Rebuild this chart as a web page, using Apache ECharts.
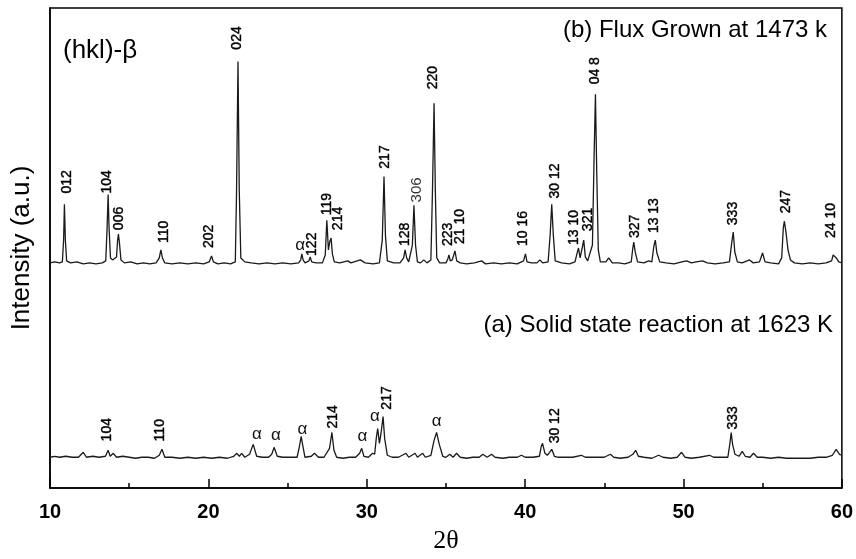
<!DOCTYPE html>
<html>
<head>
<meta charset="utf-8">
<script src="https://cdn.jsdelivr.net/npm/echarts@6/dist/echarts.min.js"></script>
<style>
  html, body { margin: 0; padding: 0; background: #fff; }
  #chart { width: 856px; height: 559px; }
</style>
</head>
<body>
<div id="chart"></div>
<script>
// 2theta / intensity (a.u.)
var fluxGrown = [
  [10.0,227],[10.3,228],[10.6,227],[10.78,228],[10.86,250],[10.91,286],[10.97,250],[11.05,229],[11.3,227],[11.7,228],
  [12.1,226],[12.5,227],[12.9,226],[13.3,227],[13.52,229],[13.6,260],[13.67,296],[13.73,262],[13.82,232],[13.95,230],
  [14.2,233],[14.27,250],[14.32,256],[14.38,248],[14.48,230],[14.7,227],[15.1,228],[15.5,226],[15.9,227],[16.3,226],
  [16.7,227],[16.9,232],[17.0,240],[17.1,232],[17.25,227],[17.7,226],[18.2,227],[18.7,226],[19.2,227],[19.7,226],
  [20.05,228],[20.2,234],[20.32,228],[20.6,226],[21.0,227],[21.4,226],[21.7,228],[21.78,300],[21.87,430],[21.95,300],
  [22.05,232],[22.3,228],[22.7,227],[23.2,226],[23.7,227],[24.2,226],[24.7,227],[25.2,226],[25.7,227],[25.83,230],
  [25.9,236],[25.98,230],[26.1,227],[26.35,229],[26.43,233],[26.52,228],[26.8,227],[27.2,227],[27.38,235],[27.48,270],
  [27.58,240],[27.66,248],[27.75,252],[27.83,236],[27.95,228],[28.3,227],[28.8,229],[29.0,227],[29.6,230],[29.9,227],
  [30.4,226],[30.8,227],[30.98,250],[31.09,314],[31.18,255],[31.3,229],[31.7,227],[32.1,227],[32.33,232],[32.42,240],
  [32.52,232],[32.65,228],[32.88,245],[32.98,285],[33.08,245],[33.2,228],[33.4,227],[33.6,230],[33.8,227],[34.05,230],
  [34.15,300],[34.25,388],[34.33,300],[34.42,232],[34.6,227],[35.0,227],[35.12,231],[35.19,235],[35.27,229],[35.4,230],
  [35.57,239],[35.68,229],[35.9,227],[36.3,226],[36.8,227],[37.25,229],[37.5,226],[38.0,227],[38.5,226],[39.0,227],
  [39.5,226],[39.9,229],[40.02,236],[40.12,228],[40.4,227],[40.75,227],[40.93,230],[41.1,227],[41.45,228],[41.58,255],
  [41.68,286],[41.78,255],[41.9,229],[42.3,227],[42.8,226],[43.15,228],[43.3,238],[43.37,242],[43.47,232],[43.6,242],
  [43.7,250],[43.8,233],[43.95,229],[44.25,245],[44.35,330],[44.44,397],[44.52,320],[44.62,240],[44.75,228],[45.1,228],
  [45.28,232],[45.5,227],[45.9,227],[46.3,226],[46.7,228],[46.8,242],[46.86,248],[46.95,238],[47.1,228],[47.5,227],
  [47.8,229],[48.0,228],[48.13,244],[48.22,250],[48.32,237],[48.5,228],[48.9,227],[49.4,226],[49.9,228],[50.2,229],
  [50.5,227],[50.8,228],[51.2,229],[51.5,227],[52.0,226],[52.5,227],[52.9,228],[53.05,248],[53.14,258],[53.24,238],
  [53.4,228],[53.7,227],[54.17,230],[54.4,227],[54.8,228],[54.99,237],[55.15,228],[55.5,227],[56.0,226],[56.2,232],
  [56.3,262],[56.37,269],[56.47,258],[56.6,240],[56.75,230],[57.0,227],[57.5,226],[58.0,227],[58.5,226],[59.0,227],
  [59.35,229],[59.45,235],[59.53,237],[59.65,232],[59.8,228],[60.0,227]
];

var solidState = [
  [10.0,31],[10.3,32],[10.6,31],[11.0,32],[11.4,31],[11.8,31],[12.1,36],[12.3,31],[12.7,32],[13.1,31],
  [13.5,32],[13.67,38],[13.8,32],[14.0,35],[14.2,31],[14.6,32],[15.0,31],[15.4,30],[15.8,31],[16.2,31],
  [16.6,30],[16.9,33],[17.07,39],[17.25,31],[17.7,31],[18.2,30],[18.7,31],[19.2,30],[19.7,31],[20.2,30],
  [20.7,31],[21.2,30],[21.6,32],[21.8,35],[21.95,32],[22.1,35],[22.3,31],[22.6,34],[22.83,44],[23.05,32],
  [23.4,31],[23.8,31],[24.0,34],[24.15,41],[24.35,32],[24.7,31],[25.2,31],[25.6,31],[25.75,42],[25.86,52],
  [25.97,42],[26.1,31],[26.5,32],[26.7,35],[26.95,31],[27.3,31],[27.65,40],[27.8,56],[27.93,38],[28.1,31],
  [28.5,30],[28.9,31],[29.3,31],[29.55,35],[29.68,40],[29.82,32],[30.1,31],[30.37,35],[30.5,34],[30.6,50],
  [30.69,60],[30.8,45],[30.9,55],[31.03,72],[31.13,50],[31.3,33],[31.6,31],[32.0,31],[32.48,35],[32.65,31],
  [33.05,35],[33.2,31],[33.53,35],[33.7,31],[34.05,33],[34.25,48],[34.41,56],[34.58,44],[34.8,32],[35.0,31],
  [35.25,34],[35.45,31],[35.67,35],[35.9,31],[36.3,30],[36.7,31],[37.1,31],[37.33,34],[37.6,31],[37.88,34],
  [38.1,31],[38.6,30],[39.0,31],[39.5,31],[39.77,33],[40.0,31],[40.5,31],[40.9,32],[41.02,42],[41.1,45],
  [41.25,35],[41.4,33],[41.55,36],[41.68,39],[41.85,32],[42.1,31],[42.5,31],[43.0,31],[43.55,33],[43.8,31],
  [44.2,31],[44.6,31],[45.0,31],[45.38,34],[45.6,31],[46.0,30],[46.5,31],[46.8,34],[46.98,38],[47.15,32],
  [47.5,31],[48.0,30],[48.43,33],[48.7,31],[49.2,30],[49.6,31],[49.88,36],[50.1,31],[50.5,30],[51.0,31],
  [51.64,33],[51.9,31],[52.4,31],[52.8,31],[52.93,45],[53.01,56],[53.1,44],[53.25,34],[53.5,32],[53.71,37],
  [53.9,32],[54.2,31],[54.42,35],[54.65,31],[55.0,31],[55.5,30],[56.0,31],[56.5,30],[57.0,30],[57.5,30],
  [58.0,30],[58.5,31],[59.0,31],[59.4,33],[59.64,39],[59.85,34],[60.0,33]
];

// peak labels (hkl), placed at 2theta / intensity
var fluxLabels = ['012','104','006','110','202','024','α','122','119','214','217','128','306','220',
  '223','21 10','10 16','30 12','13 10','321','04 8','327','13 13','333','247','24 10'];
var fluxLabelX = [11.08,13.6,14.38,17.18,20.06,21.8,25.8,26.53,27.48,28.19,31.15,32.42,33.15,34.2,
  35.15,35.88,39.87,41.87,43.09,43.97,44.4,46.92,48.13,53.11,56.48,59.32];
var fluxLabelY = [297,297,260,247,242,442,245,234,275,260,322,244,288,402,
  244,246,244,292,245,259,407,252,257,265,277,252];

var solidLabels = ['104','110','α','α','α','214','α','α','217','α','30 12','333'];
var solidLabelX = [13.6,16.97,23.06,24.26,25.94,27.86,29.72,30.52,31.26,34.41,41.87,53.11];
var solidLabelY = [47,47,54,53,59,60,52,72,79,67,45,59];

var xTicks = [10, 20, 30, 40, 50, 60];

var FONT = '"Liberation Sans", Arial, sans-serif';

function labelSeries(names, xs, ys) {
  return {
    type: 'custom',
    silent: true,
    clip: false,
    data: xs.map(function (x, i) { return [x, ys[i]]; }),
    renderItem: function (params, api) {
      var p = api.coord([api.value(0), api.value(1)]);
      var t = names[params.dataIndex];
      if (t === 'α') {
        return {
          type: 'text', x: p[0], y: p[1],
          style: { text: t, align: 'center', verticalAlign: 'middle', font: '17px ' + FONT, fill: '#111' }
        };
      }
      var light = t === '306';
      return {
        type: 'text', x: p[0], y: p[1], rotation: Math.PI / 2,
        style: {
          text: t, align: 'left', verticalAlign: 'middle',
          font: (light ? 'normal 15px ' : 'normal 14px ') + FONT,
          fill: light ? '#333' : '#000',
          stroke: light ? null : '#000', lineWidth: light ? 0 : 0.4
        }
      };
    }
  };
}

var chart = echarts.init(document.getElementById('chart'));
chart.setOption({
  animation: false,
  backgroundColor: '#fff',
  grid: { left: 50, right: 13, top: 8, bottom: 68, show: true, borderColor: '#000', borderWidth: 1.5 },
  xAxis: {
    type: 'value', min: xTicks[0], max: xTicks[xTicks.length - 1], interval: 10,
    name: '2θ', nameLocation: 'middle', nameGap: 40,
    nameTextStyle: { fontFamily: '"Liberation Serif", "DejaVu Serif", serif', fontSize: 26, color: '#000' },
    axisLine: { lineStyle: { color: '#000', width: 1.5 } },
    axisTick: { inside: true, length: 9, lineStyle: { color: '#000', width: 1.5 } },
    minorTick: { show: true, splitNumber: 2, length: 5, lineStyle: { color: '#000', width: 1.5 } },
    axisLabel: { fontFamily: FONT, fontSize: 20, fontWeight: 'bold', color: '#000', margin: 14 },
    splitLine: { show: false }
  },
  yAxis: {
    type: 'value', min: 0, max: 484,
    name: 'Intensity (a.u.)', nameLocation: 'middle', nameGap: 15, nameRotate: 90,
    nameTextStyle: { fontFamily: FONT, fontSize: 26, color: '#000' },
    axisLine: { show: true, lineStyle: { color: '#000', width: 1.5 } },
    axisTick: { show: false },
    axisLabel: { show: false },
    splitLine: { show: false }
  },
  graphic: [
    { type: 'text', left: 63, top: 38, style: { text: '(hkl)-β', font: '26px ' + FONT, fill: '#000' } },
    { type: 'text', right: 29, top: 18, style: { text: '(b) Flux Grown at 1473 k', font: '24px ' + FONT, fill: '#000' } },
    { type: 'text', right: 23, top: 313, style: { text: '(a) Solid state reaction at 1623 K', font: '24px ' + FONT, fill: '#000' } }
  ],
  series: [
    { type: 'line', data: fluxGrown, showSymbol: false, lineStyle: { color: '#1a1a1a', width: 1.3 }, silent: true },
    { type: 'line', data: solidState, showSymbol: false, lineStyle: { color: '#1a1a1a', width: 1.3 }, silent: true },
    labelSeries(fluxLabels, fluxLabelX, fluxLabelY),
    labelSeries(solidLabels, solidLabelX, solidLabelY)
  ]
});
</script>
</body>
</html>
